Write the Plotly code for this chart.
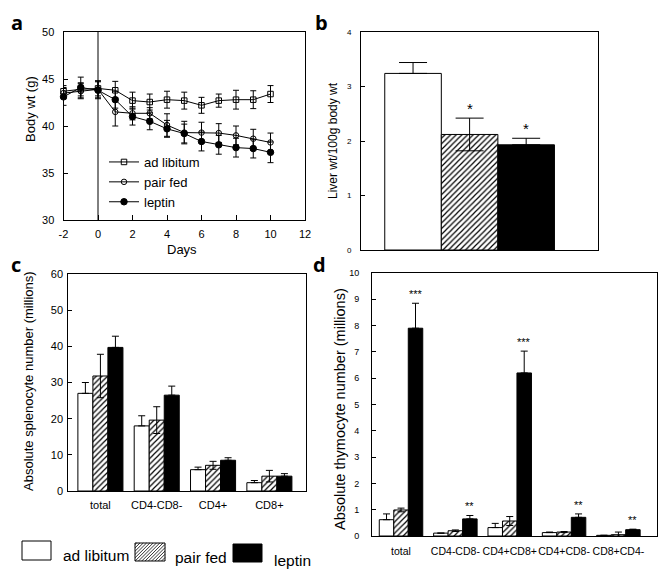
import plotly.graph_objects as go

# The page body has an 8px margin, so the figure is drawn at (8, 8) in the window.
PAGE_MARGIN = 8
WIN_W, WIN_H = 671, 570
W, H = WIN_W - PAGE_MARGIN, WIN_H - PAGE_MARGIN
FONT = "Liberation Sans, Arial, Helvetica, sans-serif"

# ---------------- data ----------------
# panel a: body weight over days
days = [-2, -1, 0, 1, 2, 3, 4, 5, 6, 7, 8, 9, 10]
a_adlib = [43.7, 43.9, 44.0, 43.8, 42.7, 42.55, 42.8, 42.7, 42.2, 42.7, 42.8, 42.8, 43.4]
a_adlib_err = [0.6, 0.7, 0.8, 0.95, 0.9, 0.85, 0.9, 0.9, 0.85, 0.7, 1.0, 0.95, 0.9]
a_pairfed = [43.5, 43.7, 43.9, 41.5, 41.35, 41.35, 40.1, 39.3, 39.3, 39.25, 39.0, 38.65, 38.25]
a_pairfed_err = [0.6, 0.8, 0.9, 1.5, 0.7, 0.6, 1.2, 1.2, 1.1, 1.0, 1.0, 1.0, 1.0]
a_leptin = [43.1, 44.1, 43.8, 42.8, 41.0, 40.5, 39.7, 39.2, 38.35, 38.0, 37.7, 37.6, 37.2]
a_leptin_err = [0.9, 1.1, 0.9, 0.9, 0.9, 0.9, 0.9, 1.0, 1.0, 1.0, 1.0, 1.0, 1.1]
treatment_day = 0
a_xticks = [-2, 0, 2, 4, 6, 8, 10, 12]
a_xticklabels = ["-2", "0", "2", "4", "6", "8", "10", "12"]

# panel b: liver weight
b_groups = ["ad libitum", "pair fed", "leptin"]
b_values = [3.24, 2.12, 1.93]
b_err = [0.2, 0.3, 0.12]
b_sig = ["", "*", "*"]

# panel c: splenocytes
c_categories = ["total", "CD4-CD8-", "CD4+", "CD8+"]
c_adlib = [27.0, 18.0, 5.9, 2.3]
c_adlib_err = [3.0, 2.8, 0.7, 0.6]
c_pairfed = [31.8, 19.6, 7.1, 4.1]
c_pairfed_err = [6.0, 3.7, 1.1, 1.6]
c_leptin = [39.7, 26.5, 8.5, 4.1]
c_leptin_err = [3.1, 2.5, 0.7, 0.7]

# panel d: thymocytes
d_categories = ["total", "CD4-CD8-", "CD4+CD8+", "CD4+CD8-", "CD8+CD4-"]
d_adlib = [0.62, 0.11, 0.32, 0.13, 0.025]
d_adlib_err = [0.22, 0.0, 0.16, 0.02, 0.0]
d_pairfed = [0.99, 0.2, 0.57, 0.15, 0.05]
d_pairfed_err = [0.07, 0.03, 0.17, 0.02, 0.1]
d_leptin = [7.9, 0.65, 6.2, 0.71, 0.24]
d_leptin_err = [0.95, 0.13, 0.83, 0.13, 0.02]
d_sig = ["***", "**", "***", "**", "**"]

group_names = ["ad libitum", "pair fed", "leptin"]


# ---------------- helpers (window pixel -> paper) ----------------
def px_x(p):
    return (p - PAGE_MARGIN) / W


def px_y(p):
    return 1 - (p - PAGE_MARGIN) / H


BARGAP = 0.2
HATCH = dict(shape="/", fgcolor="black", bgcolor="white", size=4, solidity=0.3)
GROUP_STYLES = [
    dict(color="white", line=dict(color="black", width=1)),
    dict(color="white", line=dict(color="black", width=1), pattern=HATCH),
    dict(color="black", line=dict(color="black", width=1)),
]

fig = go.Figure()

# ---------------- panel a ----------------
a_series = [
    (a_adlib, a_adlib_err, "square-open", 5.5),
    (a_pairfed, a_pairfed_err, "circle-open", 5.5),
    (a_leptin, a_leptin_err, "circle", 6.5),
]
for name, (vals, errs, sym, sz) in zip(group_names, a_series):
    fig.add_trace(go.Scatter(
        x=days, y=vals, name=name, mode="lines+markers",
        line=dict(color="black", width=1),
        marker=dict(symbol=sym, size=sz, color="black", line=dict(color="black", width=1)),
        error_y=dict(type="data", array=errs, color="black", thickness=1, width=3),
        cliponaxis=False, xaxis="x", yaxis="y", showlegend=True,
    ))

# ---------------- panel b ----------------
for k, name in enumerate(b_groups):
    fig.add_trace(go.Bar(
        x=[name], y=[b_values[k]], width=1, offsetgroup="b", showlegend=False,
        marker=GROUP_STYLES[k],
        error_y=dict(type="data", array=[b_err[k]], arrayminus=[b_err[k] if k == 1 else 0],
                     symmetric=False, color="black", thickness=1, width=14),
        xaxis="x2", yaxis="y2",
    ))


# ---------------- panels c & d ----------------
def add_bar_panel(cats, series, xa, ya, capw):
    for k, (name, (vals, errs)) in enumerate(zip(group_names, series)):
        minus = errs if k == 1 else [0] * len(errs)
        fig.add_trace(go.Bar(
            x=cats, y=vals, name=name, showlegend=False, marker=GROUP_STYLES[k],
            error_y=dict(type="data", array=errs, arrayminus=minus, symmetric=False,
                         color="black", thickness=1, width=capw),
            xaxis=xa, yaxis=ya,
        ))


add_bar_panel(c_categories,
              [(c_adlib, c_adlib_err), (c_pairfed, c_pairfed_err), (c_leptin, c_leptin_err)],
              "x3", "y3", 3.5)
add_bar_panel(d_categories,
              [(d_adlib, d_adlib_err), (d_pairfed, d_pairfed_err), (d_leptin, d_leptin_err)],
              "x4", "y4", 3.5)

annotations = []
# significance marks
for i, s in enumerate(b_sig):
    if s:
        annotations.append(dict(x=b_groups[i], y=b_values[i] + b_err[i], xref="x2", yref="y2",
                                text=s, showarrow=False, yanchor="middle", yshift=10,
                                font=dict(size=15, color="black", family=FONT)))
lep_off = (1 - BARGAP) / 3
for i, s in enumerate(d_sig):
    annotations.append(dict(x=i + lep_off, y=d_leptin[i] + d_leptin_err[i], xref="x4", yref="y4",
                            text=s, showarrow=False, yanchor="middle", yshift=9,
                            font=dict(size=11, color="black", family=FONT)))


# axis titles
def title_ann(text, x, y, size, angle=-90):
    annotations.append(dict(x=px_x(x), y=px_y(y), xref="paper", yref="paper", text=text,
                            textangle=angle, showarrow=False, xanchor="center", yanchor="middle",
                            font=dict(size=size, color="black", family=FONT)))


title_ann("Body wt (g)", 30, 109, 13)
title_ann("Days", 182, 249, 13, angle=0)
title_ann("Liver wt/100g body wt", 333, 141, 12)
title_ann("Absolute splenocyte number (millions)", 28, 381, 13)
title_ann("Absolute thymocyte number (millions)", 340, 409, 14.5)

# panel letters
for letter, x, y in [("a", 17, 22), ("b", 321, 22), ("c", 16, 264), ("d", 319, 264)]:
    annotations.append(dict(x=px_x(x), y=px_y(y), xref="paper", yref="paper", text=letter,
                            showarrow=False, xanchor="center", yanchor="middle", borderpad=0,
                            font=dict(size=20, color="black", family="Open Sans, DejaVu Sans",
                                      weight="bold")))

# bottom legend
shapes = []
legend_boxes = [(22, 541, 51, 560), (135, 543, 165, 561), (233, 544, 262, 562)]
legend_text_pos = [(61, 555), (173, 557), (272, 560)]


def hatch_path(x0, y0, x1, y1, step):
    wb, hb = x1 - x0, y1 - y0
    parts = []
    c = -hb + step / 2
    while c < wb:
        u0, u1 = max(0, c), min(wb, c + hb)
        if u1 > u0:
            parts.append("M%.5f,%.5f L%.5f,%.5f" % (
                px_x(x0 + u0), px_y(y1 - (u0 - c)), px_x(x0 + u1), px_y(y1 - (u1 - c))))
        c += step
    return " ".join(parts)


for k, (bx0, by0, bx1, by1) in enumerate(legend_boxes):
    fill = "black" if k == 2 else "white"
    shapes.append(dict(type="rect", xref="paper", yref="paper",
                       x0=px_x(bx0), x1=px_x(bx1), y0=px_y(by1), y1=px_y(by0),
                       fillcolor=fill, line=dict(color="black", width=1)))
    if k == 1:
        shapes.append(dict(type="path", xref="paper", yref="paper",
                           path=hatch_path(bx0, by0, bx1, by1, 3.3),
                           line=dict(color="black", width=0.8)))
for name, (tx, ty) in zip(group_names, legend_text_pos):
    annotations.append(dict(x=px_x(tx), y=px_y(ty), xref="paper", yref="paper", text=name,
                            showarrow=False, xanchor="left", yanchor="middle",
                            font=dict(size=15.5, color="black", family=FONT)))

# vertical reference line in panel a
shapes.append(dict(type="line", xref="x", yref="y domain", x0=treatment_day, x1=treatment_day,
                   y0=0, y1=1, line=dict(color="black", width=1)))

axis_common = dict(showline=True, mirror=True, linecolor="black", linewidth=1,
                   showgrid=False, zeroline=False, tickcolor="black", automargin=False,
                   tickfont=dict(color="black", family=FONT))


def ax(**kw):
    d = dict(axis_common)
    tf = dict(axis_common["tickfont"])
    tf.update(kw.pop("tickfont", {}))
    d.update(kw)
    d["tickfont"] = tf
    return d


fig.update_layout(
    template="none",
    width=W, height=H, margin=dict(l=0, r=0, t=0, b=0, pad=0, autoexpand=False),
    paper_bgcolor="white", plot_bgcolor="white",
    barmode="group", bargap=BARGAP, bargroupgap=0,
    font=dict(family=FONT, color="black"),
    xaxis=ax(domain=[px_x(63.5), px_x(305)], anchor="y", range=[-2, 12],
             tickmode="array", tickvals=a_xticks, ticktext=a_xticklabels,
             ticks="inside", ticklen=5, tickfont=dict(size=11), ticklabelstandoff=4),
    yaxis=ax(domain=[px_y(220), px_y(32)], anchor="x", range=[30, 50], dtick=5,
             ticks="inside", ticklen=4, tickfont=dict(size=11), ticklabelstandoff=6),
    xaxis2=ax(domain=[px_x(361), px_x(598)], anchor="y2", range=[-0.92, 3.27],
              showticklabels=False, ticks=""),
    yaxis2=ax(domain=[px_y(250), px_y(32)], anchor="x2", range=[0, 4], dtick=1,
              ticks="inside", ticklen=4, tickfont=dict(size=8), ticklabelstandoff=7),
    xaxis3=ax(domain=[px_x(68.3), px_x(306)], anchor="y3", range=[-0.57, 3.65],
              ticks="", tickangle=0, tickfont=dict(size=11), ticklabelstandoff=4),
    yaxis3=ax(domain=[px_y(491), px_y(274)], anchor="x3", range=[0, 60], dtick=10,
              ticks="inside", ticklen=4, tickfont=dict(size=11), ticklabelstandoff=2),
    xaxis4=ax(domain=[px_x(372), px_x(657)], anchor="y4", range=[-0.534, 4.71],
              ticks="", tickangle=0, tickfont=dict(size=10.5), ticklabelstandoff=5),
    yaxis4=ax(domain=[px_y(536), px_y(273)], anchor="x4", range=[0, 10], dtick=1,
              ticks="inside", ticklen=4, tickfont=dict(size=9), ticklabelstandoff=10),
    legend=dict(x=px_x(104), y=px_y(147), xanchor="left", yanchor="top",
                bgcolor="rgba(0,0,0,0)", font=dict(size=13, color="black", family=FONT),
                tracegroupgap=0, borderwidth=0),
    annotations=annotations,
    shapes=shapes,
)

fig.write_html("out.html")
